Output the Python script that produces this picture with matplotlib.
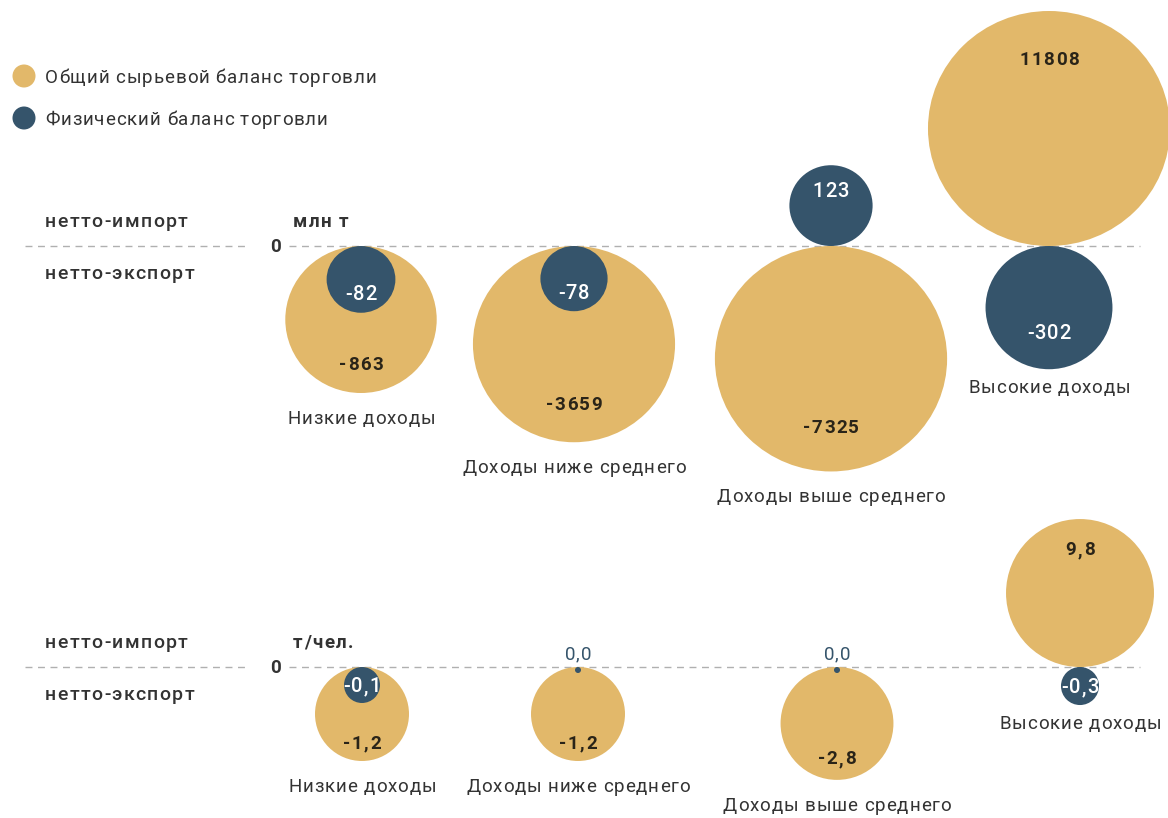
import numpy as np
import matplotlib
matplotlib.use("Agg")
import matplotlib.pyplot as plt
from matplotlib.patches import Ellipse
from matplotlib.font_manager import FontProperties, findfont, get_font

plt.rcParams['font.family'] = ['Roboto', 'DejaVu Sans']

# data
categories = ["Низкие доходы", "Доходы ниже среднего", "Доходы выше среднего", "Высокие доходы"]
legend_labels = ["Общий сырьевой баланс торговли", "Физический баланс торговли"]

raw_total_mt = [-863, -3659, -7325, 11808]      # общий сырьевой баланс, млн т
physical_mt = [-82, -78, 123, -302]             # физический баланс, млн т
raw_total_pc = [-1.2, -1.2, -2.8, 9.8]          # т/чел.
physical_pc = [-0.1, 0.0, 0.0, -0.3]            # т/чел.

BEIGE = "#E2B86A"
NAVY = "#35546B"
TXT = "#333333"
W, H = 1168, 818


def diam(v, ref_v, ref_d, p, dmin=0.0, dmax=1e9):
    # bubble size scale: power law, clipped
    a = abs(v)
    if a == 0:
        return dmin
    return float(np.clip(ref_d * (a / ref_v) ** p, dmin, dmax))


def fmt(v, dec):
    if dec == 0:
        return "{:d}".format(int(round(v)))
    return "{:.{}f}".format(v, dec).replace(".", ",")


def advances(s, size, weight):
    font = get_font(findfont(FontProperties(family="Roboto", weight=weight)))
    font.set_size(size, 72)
    return [font.load_char(ord(c)).linearHoriAdvance / 65536 * 100 / 72 for c in s]


def ttext(ax, x, y, s, size=13.5, track=0.9, ha="left", weight="normal", color=TXT, zorder=5):
    # text with letter spacing, y = visual middle of capitals (pixels)
    adv = advances(s, size, weight)
    total = sum(adv) + track * (len(s) - 1)
    x0 = x if ha == "left" else x - total / 2
    yb = y + 0.711 * size * 100 / 72 / 2
    for c, a in zip(s, adv):
        if c != " ":
            ax.text(x0, yb, c, fontsize=size, fontweight=weight, color=color,
                    ha="left", va="baseline", zorder=zorder)
        x0 += a + track


fig = plt.figure(figsize=(W / 100, H / 100), dpi=100)
ax = fig.add_axes([0, 0, 1, 1])
ax.set_xlim(0, W)
ax.set_ylim(H, 0)
ax.axis("off")

# legend
for i, (lab, col) in enumerate(zip(legend_labels, [BEIGE, NAVY])):
    y = 76 + 42 * i
    ax.add_patch(Ellipse((24, y), 23, 23, color=col, lw=0))
    ttext(ax, 45, y, lab, 13.5, 0.9)

panels = [
    dict(zero=246, unit="млн т", xs=[361, 574, 831, 1049], big=raw_total_mt, small=physical_mt, dec=0,
         big_scale=(863, 147, 0.2, 0, 235), small_scale=(80, 66, 0.47, 0, 1e9),
         stretch=1.03, small_off=0.2),
    dict(zero=667, unit="т/чел.", xs=[362, 578, 837, 1080], big=raw_total_pc, small=physical_pc, dec=1,
         big_scale=(1.2, 94, 0.216, 0, 1e9), small_scale=(0.1, 36, 0.05, 0, 1e9),
         stretch=1.0, small_off=0.0),
]

for pn in panels:
    z = pn["zero"]
    ax.plot([25, 245], [z, z], ls=(0, (5, 4)), color="#b0b0b0", lw=1, zorder=1)
    ax.plot([289, 1140], [z, z], ls=(0, (5, 4)), color="#b0b0b0", lw=1, zorder=1)
    ttext(ax, 45, z - 26, "нетто-импорт", 14, 1.4, weight="medium")
    ttext(ax, 45, z + 26, "нетто-экспорт", 14, 1.4, weight="medium")
    ttext(ax, 293, z - 26, pn["unit"], 13.5, 1.5, weight="bold")
    ttext(ax, 276, z - 1, "0", 13.5, 0, ha="center", weight="bold")

    for k, x in enumerate(pn["xs"]):
        vb = pn["big"][k]
        vs = pn["small"][k]
        db = diam(vb, *pn["big_scale"])
        ds = diam(vs, *pn["small_scale"])
        if vs == 0:
            ds = 6
        sb = -1 if vb > 0 else 1
        ss = -1 if vs > 0 else 1
        ax.add_patch(Ellipse((x, z + sb * db / 2), db * pn["stretch"], db, color=BEIGE, lw=0, zorder=2))
        ax.add_patch(Ellipse((x, z + ss * ds / 2), ds * pn["stretch"], ds, color=NAVY, lw=0, zorder=3))

        # value labels
        ttext(ax, x, z + sb * db * 0.8, fmt(vb, pn["dec"]), 13.5, 1.5, ha="center",
              weight="bold", color="#2a2418")
        if vs == 0:
            ttext(ax, x, z - 14, fmt(vs, pn["dec"]), 13.5, 1.0, ha="center", color=NAVY)
        else:
            ttext(ax, x, z + ss * ds * (0.5 + pn["small_off"]), fmt(vs, pn["dec"]), 14.5, 1.0,
                  ha="center", color="white", weight="medium")

        # category label under lowest circle
        below_b = db if sb > 0 else 0
        below_s = ds if ss > 0 else 0
        gap = 24 if below_b >= below_s else 17
        ttext(ax, x, z + max(below_b, below_s) + gap, categories[k], 13.5, 0.9, ha="center")

fig.savefig("out.png", dpi=100, facecolor="white")
